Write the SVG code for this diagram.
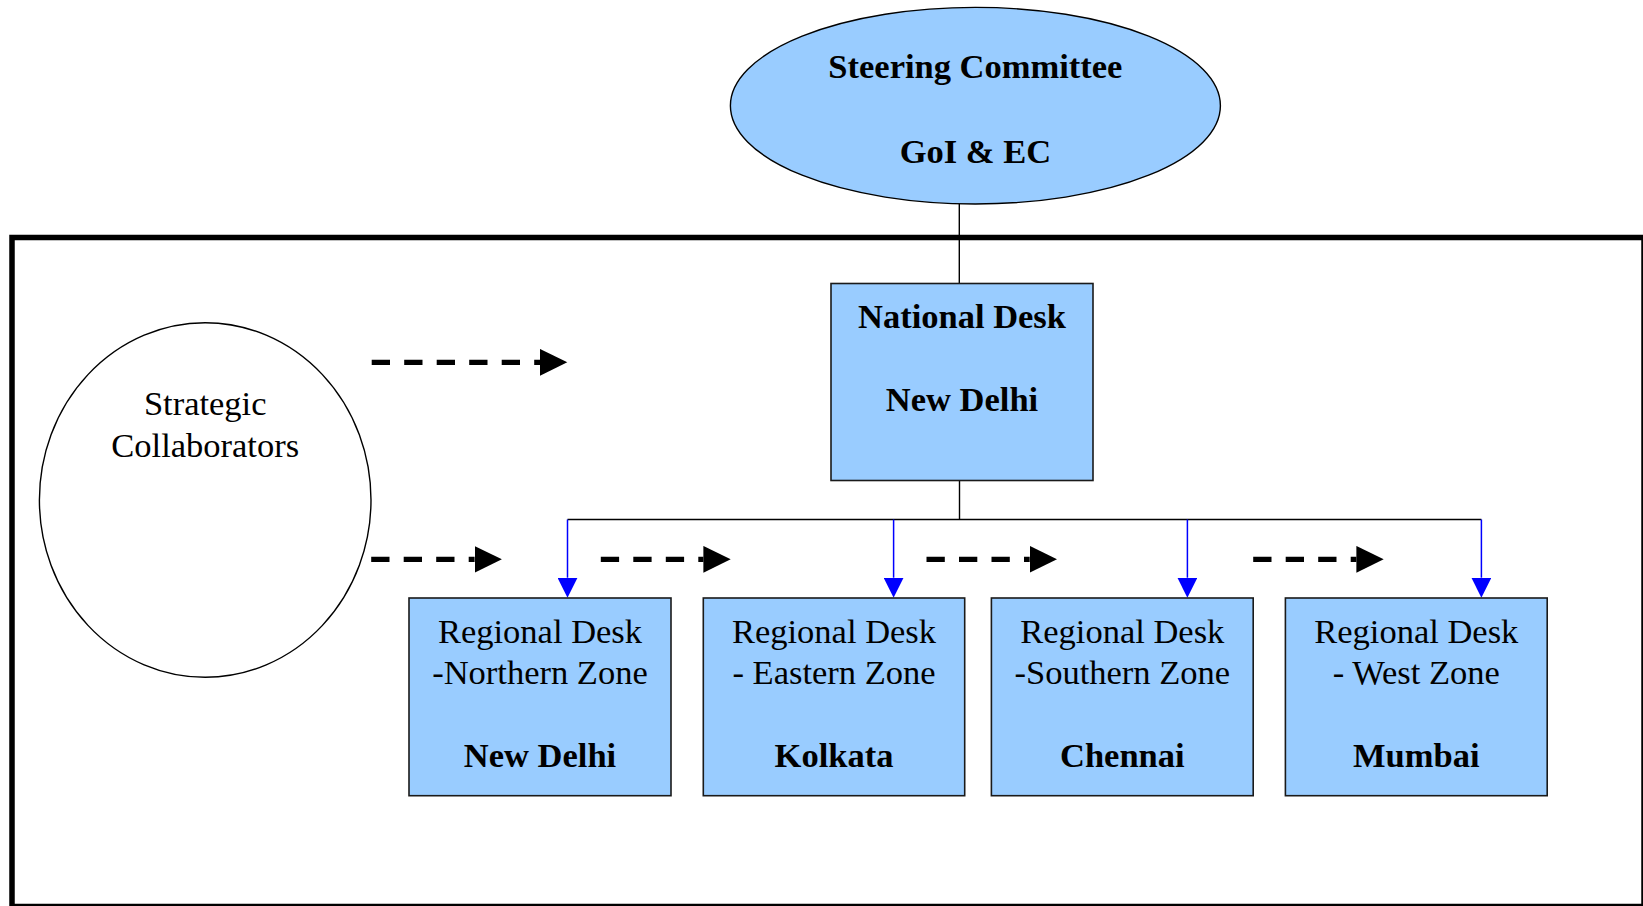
<svg xmlns="http://www.w3.org/2000/svg" width="1643" height="906" viewBox="0 0 1643 906">
  <style>
    .desk { fill: #99CCFF; stroke: #1a1a1a; stroke-width: 1.6; }
    .oval { stroke: #000; stroke-width: 1.4; }
    .t { font-family: "Liberation Serif", "Times New Roman", serif; font-size: 34.5px; fill: #000; text-anchor: middle; }
    .b { font-weight: bold; }
    .link { stroke: #000; stroke-width: 1.4; fill: none; }
    .blue { stroke: #0000FF; stroke-width: 1.5; fill: none; }
    .dash { stroke: #000; stroke-width: 5.3; stroke-dasharray: 18.3 14.2; fill: none; }
  </style>
  <defs>
    <marker id="bighead" markerUnits="userSpaceOnUse" markerWidth="28" markerHeight="27" refX="0" refY="13.35" orient="auto">
      <path d="M0,0 L27.3,13.35 L0,26.7 Z" fill="#000"/>
    </marker>
    <marker id="bluehead" markerUnits="userSpaceOnUse" markerWidth="20" markerHeight="20" refX="0" refY="10" orient="auto">
      <path d="M0,0 L20,10 L0,20 Z" fill="#0000FF"/>
    </marker>
  </defs>
  <rect width="1643" height="906" fill="#fff"/>

  <g id="frame">
    <rect x="12" y="237.5" width="1632" height="669" fill="none" stroke="#000" stroke-width="5.5"/>
  </g>

  <g id="connectors">
    <line class="link" x1="959.3" y1="204" x2="959.3" y2="283.5"/>
    <line class="link" x1="959.5" y1="480.7" x2="959.5" y2="519.5"/>
    <line class="link" x1="567.5" y1="519.5" x2="1481.4" y2="519.5"/>
    <line class="blue" x1="567.5" y1="519.5" x2="567.5" y2="577.7" marker-end="url(#bluehead)"/>
    <line class="blue" x1="893.6" y1="519.5" x2="893.6" y2="577.7" marker-end="url(#bluehead)"/>
    <line class="blue" x1="1187.4" y1="519.5" x2="1187.4" y2="577.7" marker-end="url(#bluehead)"/>
    <line class="blue" x1="1481.4" y1="519.5" x2="1481.4" y2="577.7" marker-end="url(#bluehead)"/>
    <line class="dash" x1="371.7" y1="362.3" x2="540" y2="362.3" marker-end="url(#bighead)"/>
    <line class="dash" x1="371.2" y1="559.3" x2="474.6" y2="559.3" marker-end="url(#bighead)"/>
    <line class="dash" x1="600.8" y1="559.3" x2="703.4" y2="559.3" marker-end="url(#bighead)"/>
    <line class="dash" x1="926.5" y1="559.3" x2="1029.7" y2="559.3" marker-end="url(#bighead)"/>
    <line class="dash" x1="1253.2" y1="559.3" x2="1356.4" y2="559.3" marker-end="url(#bighead)"/>
  </g>

  <g id="steering-committee">
    <ellipse class="oval" cx="975.4" cy="105.7" rx="245" ry="98.3" fill="#99CCFF"/>
    <text class="t b" x="975.4" y="78.3">Steering Committee</text>
    <text class="t b" x="975.4" y="163.3">GoI &amp; EC</text>
  </g>

  <g id="strategic-collaborators">
    <ellipse class="oval" cx="205.2" cy="500" rx="165.8" ry="177.3" fill="#fff"/>
    <text class="t" x="205.2" y="415">Strategic</text>
    <text class="t" x="205.2" y="457.3">Collaborators</text>
  </g>

  <g id="national-desk">
    <rect class="desk" x="831" y="283.5" width="262" height="197"/>
    <text class="t b" x="962" y="327.7">National Desk</text>
    <text class="t b" x="962" y="410.7">New Delhi</text>
  </g>

  <g id="regional-north">
    <rect class="desk" x="409" y="598" width="262" height="197.7"/>
    <text class="t" x="540" y="642.7">Regional Desk</text>
    <text class="t" x="540" y="684.3">-Northern Zone</text>
    <text class="t b" x="540" y="766.7">New Delhi</text>
  </g>

  <g id="regional-east">
    <rect class="desk" x="703.3" y="598" width="261.4" height="197.7"/>
    <text class="t" x="834" y="642.7">Regional Desk</text>
    <text class="t" x="834" y="684.3">- Eastern Zone</text>
    <text class="t b" x="834" y="766.7">Kolkata</text>
  </g>

  <g id="regional-south">
    <rect class="desk" x="991.4" y="598" width="261.8" height="197.7"/>
    <text class="t" x="1122.3" y="642.7">Regional Desk</text>
    <text class="t" x="1122.3" y="684.3">-Southern Zone</text>
    <text class="t b" x="1122.3" y="766.7">Chennai</text>
  </g>

  <g id="regional-west">
    <rect class="desk" x="1285.4" y="598" width="261.8" height="197.7"/>
    <text class="t" x="1416.3" y="642.7">Regional Desk</text>
    <text class="t" x="1416.3" y="684.3">- West Zone</text>
    <text class="t b" x="1416.3" y="766.7">Mumbai</text>
  </g>
</svg>
